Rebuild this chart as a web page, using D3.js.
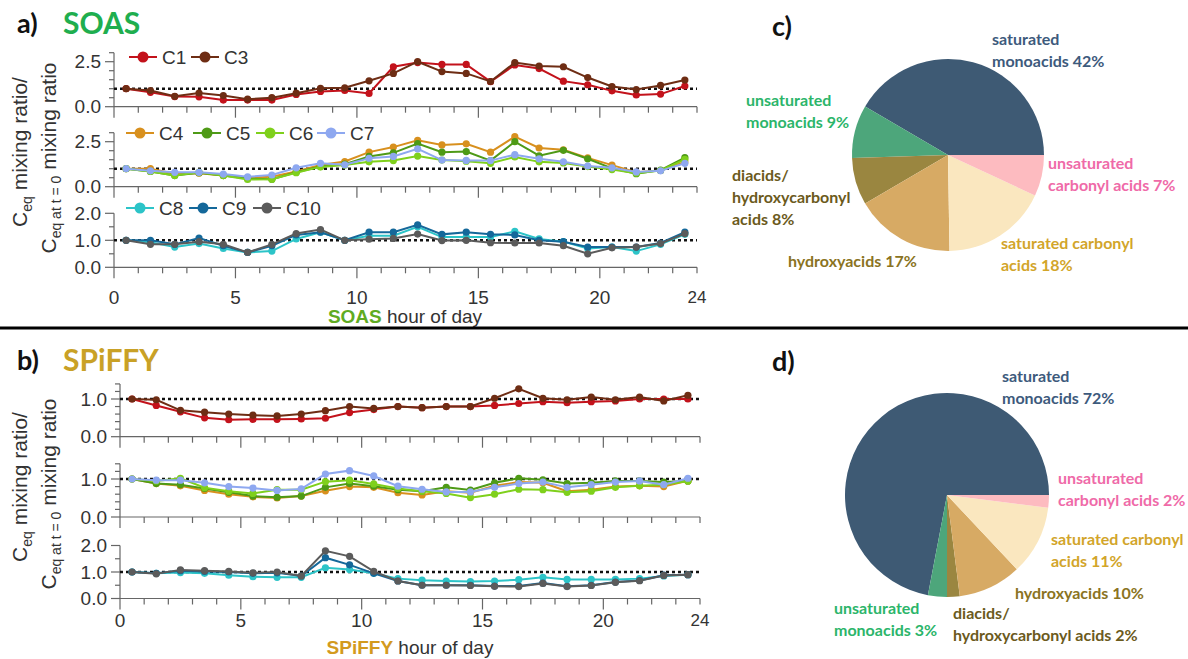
<!DOCTYPE html>
<html><head><meta charset="utf-8">
<script src="https://cdn.jsdelivr.net/npm/d3@7"></script>
<style>body{margin:0;background:#fff} svg{display:block}</style>
</head><body>
<svg id="chart" width="1188" height="659"></svg>
<script>
// ---------------- DATA ----------------
const hours = d3.range(24).map(i => i + 0.5);
const xTickLabels = [0, 5, 10, 15, 20, 24];

// SOAS
const soasC1  = [1.0,0.8,0.56,0.55,0.37,0.37,0.37,0.68,0.85,0.9,0.74,2.22,2.45,2.35,2.35,1.39,2.32,2.12,1.42,1.22,0.88,0.65,0.7,1.15];
const soasC3  = [1.0,0.9,0.58,0.76,0.62,0.42,0.5,0.75,1.02,1.05,1.44,1.85,2.5,1.95,1.85,1.4,2.45,2.26,2.22,1.62,1.12,0.95,1.18,1.48];
const soasC4  = [1.0,1.0,0.72,0.75,0.62,0.5,0.55,0.85,1.2,1.4,1.92,2.2,2.58,2.32,2.38,1.92,2.78,2.15,2.05,1.6,1.2,0.8,0.9,1.38];
const soasC5  = [1.0,0.85,0.62,0.78,0.62,0.45,0.42,0.8,1.12,1.25,1.68,1.88,2.4,1.92,1.95,1.45,2.5,1.72,2.02,1.55,1.02,0.72,0.92,1.62];
const soasC6  = [1.0,0.85,0.62,0.8,0.62,0.4,0.42,0.78,1.1,1.2,1.38,1.45,1.7,1.48,1.42,1.3,1.65,1.38,1.32,1.12,0.95,0.75,0.9,1.52];
const soasC7  = [1.0,0.88,0.8,0.8,0.7,0.55,0.65,1.05,1.3,1.22,1.58,1.68,2.1,1.48,1.46,1.45,1.78,1.55,1.38,1.15,1.05,0.82,0.88,1.3];
const soasC8  = [1.0,0.93,0.75,0.88,0.7,0.55,0.6,1.05,1.3,1.0,1.17,1.17,1.5,1.12,1.12,1.12,1.33,1.05,0.95,0.7,0.75,0.6,0.85,1.22];
const soasC9  = [1.0,1.0,0.85,1.08,0.8,0.55,0.8,1.2,1.3,1.0,1.3,1.3,1.57,1.22,1.3,1.22,1.2,1.0,0.95,0.75,0.75,0.75,0.9,1.3];
const soasC10 = [1.0,0.85,0.85,0.95,0.85,0.55,0.85,1.25,1.4,1.0,1.04,1.07,1.23,0.99,1.0,0.91,0.9,0.9,0.8,0.5,0.72,0.75,0.88,1.25];

// SPiFFY
const spiC1  = [1.0,0.83,0.66,0.5,0.45,0.46,0.46,0.47,0.49,0.64,0.72,0.8,0.77,0.8,0.8,0.83,0.88,0.93,0.9,0.93,0.95,1.0,1.0,1.0];
const spiC3  = [1.0,0.98,0.7,0.65,0.6,0.57,0.55,0.6,0.69,0.8,0.75,0.8,0.77,0.8,0.8,1.02,1.27,1.02,0.98,1.05,0.98,1.05,0.95,1.1];
const spiC4  = [1.0,0.88,0.82,0.7,0.6,0.53,0.5,0.55,0.69,0.8,0.78,0.64,0.58,0.68,0.64,0.82,0.92,0.9,0.68,0.72,0.8,0.82,0.8,0.95];
const spiC5  = [1.0,0.88,0.85,0.75,0.65,0.55,0.52,0.55,0.78,0.88,0.81,0.72,0.68,0.78,0.71,0.9,1.02,0.98,0.88,0.9,0.95,0.95,0.92,0.95];
const spiC6  = [1.0,0.95,1.02,0.77,0.68,0.62,0.72,0.72,0.93,0.97,0.87,0.75,0.68,0.62,0.51,0.6,0.73,0.72,0.65,0.68,0.78,0.82,0.85,0.95];
const spiC7  = [1.0,0.97,0.97,0.9,0.8,0.76,0.7,0.74,1.13,1.22,1.08,0.81,0.73,0.66,0.66,0.78,0.88,0.92,0.78,0.85,0.92,0.95,0.85,1.02];
const spiC8  = [1.0,0.95,0.98,0.95,0.88,0.82,0.8,0.8,1.16,1.09,0.95,0.75,0.69,0.66,0.64,0.66,0.71,0.8,0.72,0.72,0.72,0.75,0.85,0.9];
const spiC9  = [1.0,0.95,1.05,1.02,1.0,0.95,0.97,0.85,1.54,1.27,0.95,0.66,0.5,0.5,0.5,0.47,0.47,0.58,0.46,0.5,0.62,0.68,0.88,0.9];
const spiC10 = [1.0,0.93,1.08,1.05,1.02,0.97,1.0,0.85,1.8,1.59,1.02,0.66,0.5,0.5,0.49,0.46,0.45,0.57,0.45,0.49,0.61,0.67,0.87,0.9];

// Pies
const pieCategories = ["saturated monoacids","unsaturated monoacids","diacids/ hydroxycarbonyl acids","hydroxyacids","saturated carbonyl acids","unsaturated carbonyl acids"];
const soasShares   = [42, 9, 8, 17, 18, 7];
const spiffyShares = [72, 3, 2, 10, 11, 2];

// ---------------- STYLE ----------------
const seriesColor = {C1:"#c3121b", C3:"#6e2d14", C4:"#d8901e", C5:"#4e9a16", C6:"#7fd01c", C7:"#8ea8f0", C8:"#2cc4c8", C9:"#14689a", C10:"#5b5b5b"};
const sliceColor = ["#3e5a74","#4da67b","#9a8640","#d7aa64","#fae7bf","#fdbbc0"];
const labelColor = ["#3d5a7c","#2bb56a","#6b5a1c","#8a7322","#d2a52a","#ef6aa8"];
const axisColor = "#666";
const textColor = "#333";
const F = "'Liberation Sans', Arial, sans-serif";
const FB = "Lato, 'Open Sans', sans-serif";

const svg = d3.select("#chart");
svg.append("rect").attr("width",1188).attr("height",659).attr("fill","#fff");

function drawSubplot(cfg) {
  const x = d3.scaleLinear().domain([0,24]).range(cfg.xr);
  const y = d3.scaleLinear().domain([0,cfg.ymax]).range([cfg.y0, cfg.y0 - cfg.ppu*cfg.ymax]);
  const g = svg.append("g");
  g.append("line").attr("x1",x(0)).attr("x2",x(0)).attr("y1",y(0)).attr("y2",y(cfg.ymax))
    .attr("stroke",axisColor).attr("stroke-width",1.2);
  const yt = d3.range(0, cfg.ymax + 1e-9, cfg.minor);
  yt.forEach(v => {
    const major = cfg.ylabels.some(l => Math.abs(l - v) < 1e-9);
    g.append("line").attr("x1",x(0)).attr("x2",x(0) - (major ? 9 : 5))
      .attr("y1",y(v)).attr("y2",y(v)).attr("stroke",axisColor).attr("stroke-width",1.2);
  });
  cfg.ylabels.forEach(v => {
    g.append("text").attr("x",x(0) - 13).attr("y",y(v)).attr("text-anchor","end")
      .attr("dominant-baseline","central").attr("font-family",F).attr("font-size",19)
      .attr("fill",textColor).text(d3.format(".1f")(v));
  });
  g.append("line").attr("x1",x(0)).attr("x2",x(24)).attr("y1",y(0)).attr("y2",y(0))
    .attr("stroke",axisColor).attr("stroke-width",1.2);
  d3.range(0,25).forEach(h => {
    const major = h % 5 === 0;
    g.append("line").attr("x1",x(h)).attr("x2",x(h)).attr("y1",y(0)).attr("y2",y(0) + (major ? 11 : 6))
      .attr("stroke",axisColor).attr("stroke-width",1.2);
  });
  if (cfg.xlabels) {
    xTickLabels.forEach(h => {
      g.append("text").attr("x",x(h)).attr("y",cfg.xlabY).attr("text-anchor","middle")
        .attr("dominant-baseline","central").attr("font-family",F).attr("font-size",h===24?17:19)
        .attr("fill",textColor).text(h);
    });
  }
  g.append("line").attr("x1",x(0)).attr("x2",x(24)).attr("y1",y(1)).attr("y2",y(1))
    .attr("stroke","#111").attr("stroke-width",2.4).attr("stroke-dasharray","3,3");
  const line = d3.line().x((d,i) => x(hours[i])).y(d => y(d));
  cfg.series.forEach(s => {
    const c = seriesColor[s.name];
    g.append("path").datum(s.values).attr("d",line).attr("fill","none")
      .attr("stroke",c).attr("stroke-width",2);
    g.selectAll(null).data(s.values).enter().append("circle")
      .attr("cx",(d,i) => x(hours[i])).attr("cy",d => y(d)).attr("r",3.6).attr("fill",c);
  });
  if (cfg.legend) {
    cfg.series.forEach((s,i) => {
      const cx = cfg.legend.xs[i], cy = cfg.legend.y, c = seriesColor[s.name];
      g.append("line").attr("x1",cx-14).attr("x2",cx+14).attr("y1",cy).attr("y2",cy)
        .attr("stroke",c).attr("stroke-width",2);
      g.append("circle").attr("cx",cx).attr("cy",cy).attr("r",5.5).attr("fill",c);
      g.append("text").attr("x",cx+19).attr("y",cy).attr("dominant-baseline","central")
        .attr("font-family",F).attr("font-size",19).attr("fill",textColor).text(s.name);
    });
  }
}

const ax = [114, 697], bx = [120, 700];
drawSubplot({xr:ax, y0:106.7, ppu:18, ymax:3, minor:0.5, ylabels:[0,2.5],
  series:[{name:"C1",values:soasC1},{name:"C3",values:soasC3}], legend:{xs:[143,205], y:57}});
drawSubplot({xr:ax, y0:186.7, ppu:18, ymax:3, minor:0.5, ylabels:[0,2.5],
  series:[{name:"C4",values:soasC4},{name:"C5",values:soasC5},{name:"C6",values:soasC6},{name:"C7",values:soasC7}],
  legend:{xs:[140,207,270,331], y:133}});
drawSubplot({xr:ax, y0:267.3, ppu:27, ymax:2, minor:0.5, ylabels:[0,1,2], xlabels:true, xlabY:297,
  series:[{name:"C8",values:soasC8},{name:"C9",values:soasC9},{name:"C10",values:soasC10}],
  legend:{xs:[140,203,267], y:208}});

drawSubplot({xr:bx, y0:436.7, ppu:37.7, ymax:1.4, minor:0.2, ylabels:[0,1],
  series:[{name:"C1",values:spiC1},{name:"C3",values:spiC3}]});
drawSubplot({xr:bx, y0:517, ppu:38, ymax:1.4, minor:0.2, ylabels:[0,1],
  series:[{name:"C4",values:spiC4},{name:"C5",values:spiC5},{name:"C6",values:spiC6},{name:"C7",values:spiC7}]});
drawSubplot({xr:bx, y0:598.5, ppu:26.5, ymax:2, minor:0.5, ylabels:[0,1,2], xlabels:true, xlabY:620,
  series:[{name:"C8",values:spiC8},{name:"C9",values:spiC9},{name:"C10",values:spiC10}]});

function yTitle(cy1, cy2) {
  const t1 = svg.append("text").attr("transform",`translate(27,${cy1}) rotate(-90)`)
    .attr("text-anchor","middle").attr("font-family",F).attr("font-size",21).attr("fill",textColor);
  t1.append("tspan").text("C");
  t1.append("tspan").attr("font-size",14).attr("dy",5).text("eq");
  t1.append("tspan").attr("dy",-5).text(" mixing ratio/");
  const t2 = svg.append("text").attr("transform",`translate(56,${cy2}) rotate(-90)`)
    .attr("text-anchor","middle").attr("font-family",F).attr("font-size",21).attr("fill",textColor);
  t2.append("tspan").text("C");
  t2.append("tspan").attr("font-size",14).attr("dy",5).text("eq at t = 0");
  t2.append("tspan").attr("dy",-5).text(" mixing ratio");
}
yTitle(152, 158);
yTitle(487, 494);

function xTitle(cx, cy, name, color) {
  const t = svg.append("text").attr("x",cx).attr("y",cy).attr("text-anchor","middle")
    .attr("dominant-baseline","central").attr("font-family",F).attr("font-size",19).attr("fill",textColor);
  t.append("tspan").attr("font-weight","bold").attr("fill",color).text(name);
  t.append("tspan").text(" hour of day");
}
xTitle(405, 316, "SOAS", "#5fab22");
xTitle(410, 647, "SPiFFY", "#d39a1e");

function panelTitle(x, y, letter, name, color) {
  svg.append("text").attr("x",x).attr("y",y).attr("font-family",FB).attr("font-weight",700)
    .attr("font-size",27).attr("fill","#111").text(letter);
  if (name) svg.append("text").attr("x",63).attr("y",y+1).attr("font-family",FB).attr("font-weight",700)
    .attr("font-size",30).attr("fill",color).text(name);
}
panelTitle(17, 33, "a)", "SOAS", "#1fae4f");
panelTitle(17, 370, "b)", "SPiFFY", "#c9a126");
panelTitle(772, 36, "c)");
panelTitle(772, 371, "d)");

svg.append("line").attr("x1",0).attr("x2",1188).attr("y1",328).attr("y2",328)
  .attr("stroke","#000").attr("stroke-width",3);

function drawPie(cx, cy, r, shares, labels) {
  const pie = d3.pie().sort(null).value(d => d).startAngle(Math.PI/2).endAngle(Math.PI/2 - 2*Math.PI);
  const arc = d3.arc().innerRadius(0).outerRadius(r);
  const g = svg.append("g").attr("transform",`translate(${cx},${cy})`);
  g.selectAll("path").data(pie(shares)).enter().append("path")
    .attr("d",arc).attr("fill",(d,i) => sliceColor[i]);
  labels.forEach(l => {
    const t = svg.append("text").attr("font-family",FB).attr("font-weight",700).attr("font-size",16)
      .attr("fill",labelColor[l.i]);
    l.lines.forEach((s,k) => {
      t.append("tspan").attr("x",l.x).attr("y",l.y + k*22).attr("dominant-baseline","central").text(s);
    });
  });
}
drawPie(948, 155, 96, soasShares, [
  {i:0, x:992, y:38, lines:["saturated", `monoacids ${soasShares[0]}%`]},
  {i:1, x:746, y:99, lines:["unsaturated", `monoacids ${soasShares[1]}%`]},
  {i:2, x:732, y:174, lines:["diacids/", "hydroxycarbonyl", `acids ${soasShares[2]}%`]},
  {i:3, x:788, y:260, lines:[`hydroxyacids ${soasShares[3]}%`]},
  {i:4, x:1001, y:242, lines:["saturated carbonyl", `acids ${soasShares[4]}%`]},
  {i:5, x:1048, y:162, lines:["unsaturated", `carbonyl acids ${soasShares[5]}%`]}
]);
drawPie(947, 495, 102, spiffyShares, [
  {i:0, x:1002, y:375, lines:["saturated", `monoacids ${spiffyShares[0]}%`]},
  {i:1, x:834, y:607, lines:["unsaturated", `monoacids ${spiffyShares[1]}%`]},
  {i:2, x:953, y:612, lines:["diacids/", `hydroxycarbonyl acids ${spiffyShares[2]}%`]},
  {i:3, x:1015, y:592, lines:[`hydroxyacids ${spiffyShares[3]}%`]},
  {i:4, x:1051, y:538, lines:["saturated carbonyl", `acids ${spiffyShares[4]}%`]},
  {i:5, x:1058, y:477, lines:["unsaturated", `carbonyl acids ${spiffyShares[5]}%`]}
]);
</script>
</body></html>
